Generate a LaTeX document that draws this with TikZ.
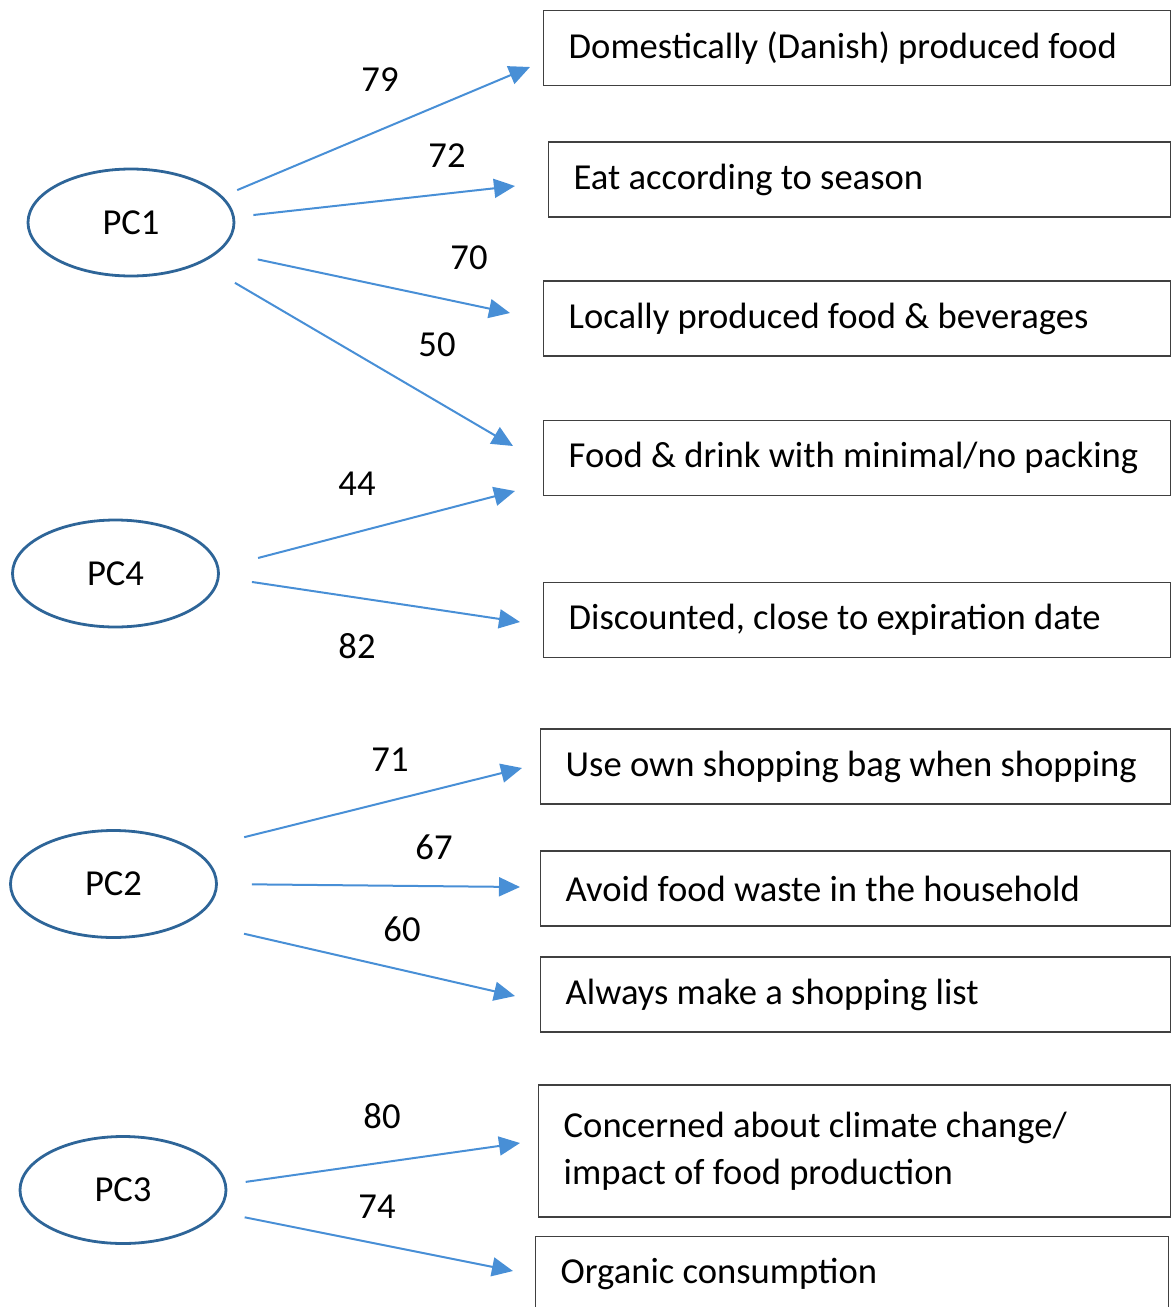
\documentclass[tikz,border=0pt]{standalone}
\usepackage{fontspec}
\setmainfont{Carlito}
\usetikzlibrary{shapes.geometric, arrows.meta}
\definecolor{pcblue}{RGB}{46,101,152}
\definecolor{arrowblue}{RGB}{72,143,214}
\definecolor{boxgray}{RGB}{64,64,64}

\begin{document}
\begin{tikzpicture}[x=0.5pt, y=-0.5pt,
    every node/.style={font=\fontsize{18.3}{23.5}\selectfont},
    pc/.style={ellipse, draw=pcblue, line width=1.4pt, minimum width=103pt, minimum height=53.5pt, inner sep=0pt},
    item/.style={rectangle, draw=boxgray, line width=0.7pt, anchor=west, minimum height=37.5pt, inner xsep=12.5pt, inner ysep=0pt, align=flush left, text width=#1},
    link/.style={arrowblue, line width=1pt, -{Triangle[length=10.5pt, width=9.5pt]}}]
    \useasboundingbox (0,0) rectangle (1171,1307);

    % components
    \node[pc] (pc1) at (131,222.5) {PC1};
    \node[pc] (pc4) at (115.5,573.5) {PC4};
    \node[pc] (pc2) at (113.5,884) {PC2};
    \node[pc] (pc3) at (123,1190) {PC3};

    % items
    \node[item=288.25pt] (dan) at (543,48) {Domestically (Danish) produced food};
    \node[item=285.75pt] (season) at (548,179.5) {Eat according to season};
    \node[item=288.25pt] (local) at (543,318.5) {Locally produced food \& beverages};
    \node[item=288.25pt] (pack) at (543,458) {Food \& drink with minimal/no packing};
    \node[item=288.25pt] (disc) at (543,620) {Discounted, close to expiration date};
    \node[item=289.75pt] (bag) at (540,766.5) {Use own shopping bag when shopping};
    \node[item=289.75pt] (waste) at (540,888.5) {Avoid food waste in the household};
    \node[item=289.75pt] (list) at (540,994.5) {Always make a shopping list};
    \node[item=290.75pt, minimum height=66pt] (climate) at (538,1151) {Concerned about climate change/\\impact of food production};
    \node[item=291.5pt] (organic) at (535,1274) {Organic consumption};

    % arrow tips
    \coordinate (tdan) at (530,67);
    \coordinate (tseason) at (515,186);
    \coordinate (tlocal) at (510,313);
    \coordinate (tpack) at (513,446);
    \coordinate (tpack4) at (515,491);
    \coordinate (tdisc) at (520,622);
    \coordinate (tbag) at (522,768);
    \coordinate (twaste) at (520,887);
    \coordinate (tlist) at (515,996);
    \coordinate (tclimate) at (520,1143);
    \coordinate (torganic) at (513,1271);

    % PC1
    \draw[link, shorten <=7.9pt] (pc1.16.5) -- (tdan);
    \draw[link, shorten <=9.3pt] (pc1.3.1) -- (tseason);
    \draw[link, shorten <=19.4pt] (pc1.-18.1) -- (tlocal);
    \draw[link, shorten <=19.5pt] (pc1.-30.2) -- (tpack);
    \node (l79) at (380,80) {79};
    \node (l72) at (447,156) {72};
    \node (l70) at (469,258) {70};
    \node (l50) at (437,345) {50};

    % PC4
    \draw[link, shorten <=20pt] (pc4.3.7) -- (tpack4);
    \draw[link, shorten <=16.3pt] (pc4.-2.1) -- (tdisc);
    \node (l44) at (357,484) {44};
    \node (l82) at (357,646) {82};

    % PC2
    \draw[link, shorten <=25.5pt] (pc2.23) -- (tbag);
    \draw[link, shorten <=17pt] (pc2.0) -- (twaste);
    \draw[link, shorten <=27.7pt] (pc2.-26.1) -- (tlist);
    \node (l71) at (390,760) {71};
    \node (l67) at (434,847) {67};
    \node (l60) at (402,929) {60};

    % PC3
    \draw[link, shorten <=9.5pt] (pc3.3.6) -- (tclimate);
    \draw[link, shorten <=13.3pt] (pc3.-13.8) -- (torganic);
    \node (l80) at (382,1116) {80};
    \node (l74) at (377,1207) {74};
\end{tikzpicture}
\end{document}
